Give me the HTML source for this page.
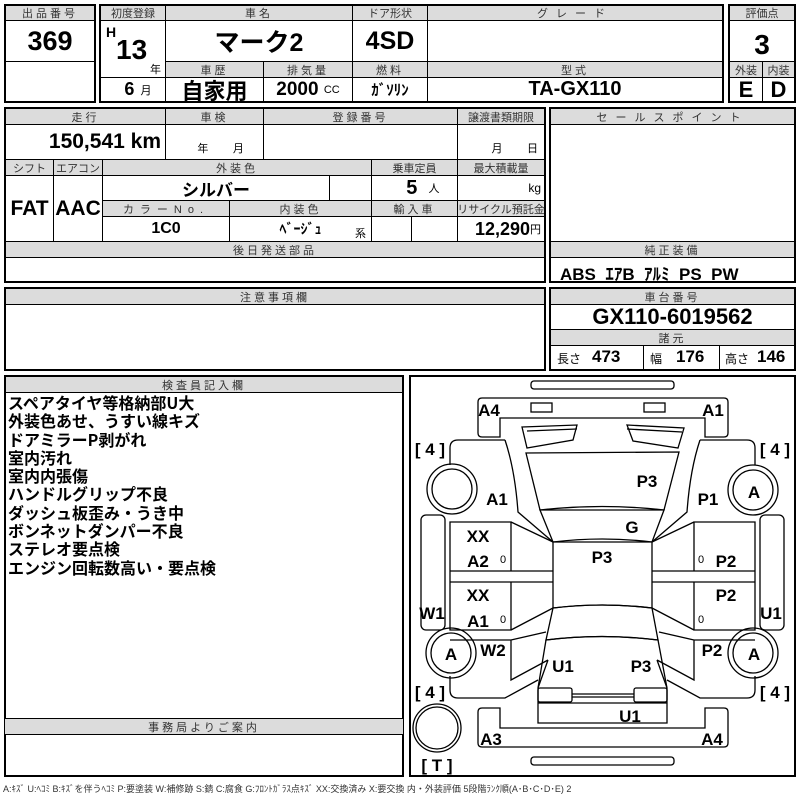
<!DOCTYPE html>
<html><head><meta charset="utf-8"><style>
*{margin:0;padding:0;box-sizing:border-box}
body{width:800px;height:800px;background:#fff;position:relative;overflow:hidden;font-family:"Liberation Sans","Noto Sans CJK JP",sans-serif;color:#000}
.c{position:absolute;border:1px solid #000;display:flex;align-items:center;justify-content:center;white-space:nowrap}
.h{background:#dcdcdc;font-size:11px;letter-spacing:3px;color:#333}
.v{font-weight:bold;font-family:"Liberation Sans Narrow","Liberation Sans","Noto Sans CJK JP",sans-serif}
.ob{position:absolute;border:2px solid #000}
.t{position:absolute;white-space:nowrap}
.s{font-size:11px;font-weight:normal}
</style></head><body>
<!-- box1 -->
<div class="ob" style="left:4px;top:4px;width:92px;height:99px"></div>
<div class="c h" style="left:5px;top:5px;width:90px;height:16px">出品番号</div>
<div class="c v" style="left:5px;top:20px;width:90px;height:42px;font-size:27px">369</div>
<!-- box2 -->
<div class="ob" style="left:99px;top:4px;width:625px;height:99px"></div>
<div class="c h" style="left:100px;top:5px;width:66px;height:16px;letter-spacing:0">初度登録</div>
<div class="c h" style="left:165px;top:5px;width:188px;height:16px">車名</div>
<div class="c h" style="left:352px;top:5px;width:76px;height:16px;letter-spacing:0">ドア形状</div>
<div class="c h" style="left:427px;top:5px;width:296px;height:16px;letter-spacing:8px">グレード</div>
<div class="c" style="left:100px;top:20px;width:66px;height:58px"></div>
<div class="t v" style="left:106px;top:24px;font-size:14px">H</div>
<div class="t v" style="left:116px;top:34px;font-size:28px">13</div>
<div class="t s" style="left:150px;top:61px">年</div>
<div class="c v" style="left:165px;top:20px;width:188px;height:42px;font-size:25px">マーク2</div>
<div class="c v" style="left:352px;top:20px;width:76px;height:42px;font-size:25px">4SD</div>
<div class="c" style="left:427px;top:20px;width:296px;height:42px"></div>
<div class="c h" style="left:165px;top:61px;width:99px;height:17px">車歴</div>
<div class="c h" style="left:263px;top:61px;width:90px;height:17px">排気量</div>
<div class="c h" style="left:352px;top:61px;width:76px;height:17px">燃料</div>
<div class="c h" style="left:427px;top:61px;width:296px;height:17px">型式</div>
<div class="c v" style="left:100px;top:77px;width:66px;height:25px;font-size:18px">&nbsp;&nbsp;6 <span class="s">&nbsp;&nbsp;月</span></div>
<div class="c v" style="left:165px;top:77px;width:99px;height:25px;font-size:22px">自家用</div>
<div class="c v" style="left:263px;top:77px;width:90px;height:25px;font-size:19px">2000&nbsp;<span class="s">CC</span></div>
<div class="c v" style="left:352px;top:77px;width:76px;height:25px;font-size:15px">ｶﾞｿﾘﾝ</div>
<div class="c v" style="left:427px;top:77px;width:296px;height:25px;font-size:20px">TA-GX110</div>
<!-- box3 -->
<div class="ob" style="left:728px;top:4px;width:68px;height:99px"></div>
<div class="c h" style="left:729px;top:5px;width:66px;height:16px;letter-spacing:0">評価点</div>
<div class="c v" style="left:729px;top:20px;width:66px;height:42px;font-size:28px;padding-top:8px">3</div>
<div class="c h" style="left:729px;top:61px;width:34px;height:17px;letter-spacing:0">外装</div>
<div class="c h" style="left:762px;top:61px;width:33px;height:17px;letter-spacing:0">内装</div>
<div class="c v" style="left:729px;top:77px;width:34px;height:25px;font-size:22px">E</div>
<div class="c v" style="left:762px;top:77px;width:33px;height:25px;font-size:22px">D</div>
<!-- section2 -->
<div class="ob" style="left:4px;top:107px;width:542px;height:176px"></div>
<div class="c h" style="left:5px;top:108px;width:161px;height:17px">走行</div>
<div class="c h" style="left:165px;top:108px;width:99px;height:17px">車検</div>
<div class="c h" style="left:263px;top:108px;width:195px;height:17px">登録番号</div>
<div class="c h" style="left:457px;top:108px;width:88px;height:17px;letter-spacing:0">譲渡書類期限</div>
<div class="c v" style="left:5px;top:124px;width:161px;height:36px;font-size:21px;justify-content:flex-end;padding-right:4px">150,541 km</div>
<div class="c" style="left:165px;top:124px;width:99px;height:36px;font-size:11px;align-items:flex-end;padding-bottom:3px">&nbsp;&nbsp;&nbsp;&nbsp;年&nbsp;&nbsp;&nbsp;&nbsp;&nbsp;&nbsp;&nbsp;&nbsp;月</div>
<div class="c" style="left:263px;top:124px;width:195px;height:36px"></div>
<div class="c" style="left:457px;top:124px;width:88px;height:36px;font-size:11px;align-items:flex-end;justify-content:flex-end;padding:0 6px 3px 0">月&nbsp;&nbsp;&nbsp;&nbsp;&nbsp;&nbsp;&nbsp;&nbsp;日</div>
<div class="c h" style="left:5px;top:159px;width:49px;height:17px;letter-spacing:0">シフト</div>
<div class="c h" style="left:53px;top:159px;width:50px;height:17px;letter-spacing:0">エアコン</div>
<div class="c h" style="left:102px;top:159px;width:270px;height:17px">外装色</div>
<div class="c h" style="left:371px;top:159px;width:87px;height:17px;letter-spacing:0">乗車定員</div>
<div class="c h" style="left:457px;top:159px;width:88px;height:17px;letter-spacing:0">最大積載量</div>
<div class="c v" style="left:5px;top:175px;width:49px;height:67px;font-size:21px">FAT</div>
<div class="c v" style="left:53px;top:175px;width:50px;height:67px;font-size:21px">AAC</div>
<div class="c v" style="left:102px;top:175px;width:228px;height:26px;font-size:17px">シルバー</div>
<div class="c" style="left:329px;top:175px;width:43px;height:26px"></div>
<div class="c v" style="left:371px;top:175px;width:87px;height:26px;font-size:20px">&nbsp;&nbsp;&nbsp;5&nbsp;&nbsp;<span class="s">人</span></div>
<div class="c" style="left:457px;top:175px;width:88px;height:26px;font-size:12px;justify-content:flex-end;padding-right:3px">kg</div>
<div class="c h" style="left:102px;top:200px;width:128px;height:17px;letter-spacing:6px">カラーNo.</div>
<div class="c h" style="left:229px;top:200px;width:143px;height:17px">内装色</div>
<div class="c h" style="left:371px;top:200px;width:87px;height:17px">輸入車</div>
<div class="c h" style="left:457px;top:200px;width:88px;height:17px;letter-spacing:0">リサイクル預託金</div>
<div class="c v" style="left:102px;top:216px;width:128px;height:26px;font-size:16px">1C0</div>
<div class="c v" style="left:229px;top:216px;width:143px;height:26px;font-size:14px">ﾍﾞｰｼﾞｭ</div>
<div class="t s" style="left:355px;top:225px">系</div>
<div class="c" style="left:371px;top:216px;width:41px;height:26px"></div>
<div class="c" style="left:411px;top:216px;width:47px;height:26px"></div>
<div class="c v" style="left:457px;top:216px;width:88px;height:26px;font-size:18px;justify-content:flex-end;padding-right:3px">12,290<span class="s">円</span></div>
<div class="c h" style="left:5px;top:241px;width:540px;height:17px">後日発送部品</div>
<!-- sales -->
<div class="ob" style="left:549px;top:107px;width:247px;height:176px"></div>
<div class="c h" style="left:550px;top:108px;width:245px;height:17px;letter-spacing:8px">セールスポイント</div>
<div class="c h" style="left:550px;top:241px;width:245px;height:17px">純正装備</div>
<div class="t v" style="left:560px;top:260px;font-size:17px">ABS&nbsp; ｴｱB&nbsp; ｱﾙﾐ&nbsp; PS&nbsp; PW</div>
<!-- section3 -->
<div class="ob" style="left:4px;top:287px;width:542px;height:84px"></div>
<div class="c h" style="left:5px;top:288px;width:540px;height:17px">注意事項欄</div>
<div class="ob" style="left:549px;top:287px;width:247px;height:84px"></div>
<div class="c h" style="left:550px;top:288px;width:245px;height:17px">車台番号</div>
<div class="c v" style="left:550px;top:304px;width:245px;height:26px;font-size:22px">GX110-6019562</div>
<div class="c h" style="left:550px;top:329px;width:245px;height:17px">諸元</div>
<div class="c" style="left:550px;top:345px;width:94px;height:25px"></div>
<div class="c" style="left:643px;top:345px;width:77px;height:25px"></div>
<div class="c" style="left:719px;top:345px;width:76px;height:25px"></div>
<div class="t" style="left:557px;top:350px;font-size:12px">長さ</div><div class="t v" style="left:592px;top:347px;font-size:17px">473</div>
<div class="t" style="left:650px;top:350px;font-size:12px">幅</div><div class="t v" style="left:676px;top:347px;font-size:17px">176</div>
<div class="t" style="left:725px;top:350px;font-size:12px">高さ</div><div class="t v" style="left:757px;top:347px;font-size:17px">146</div>
<!-- section4 -->
<div class="ob" style="left:4px;top:375px;width:400px;height:402px"></div>
<div class="c h" style="left:5px;top:376px;width:398px;height:17px">検査員記入欄</div>
<div class="t" style="left:8px;top:393px;font-size:16px;font-weight:bold;line-height:18.3px;font-family:'Noto Sans CJK JP',sans-serif">スペアタイヤ等格納部U大<br>外装色あせ、うすい線キズ<br>ドアミラーP剥がれ<br>室内汚れ<br>室内内張傷<br>ハンドルグリップ不良<br>ダッシュ板歪み・うき中<br>ボンネットダンパー不良<br>ステレオ要点検<br>エンジン回転数高い・要点検</div>
<div class="c h" style="left:5px;top:718px;width:398px;height:17px;border-left:none;border-right:none">事務局よりご案内</div>
<div class="ob" style="left:409px;top:375px;width:387px;height:402px"></div>
<svg style="position:absolute;left:0;top:0" width="800" height="800" fill="none" stroke="#000" stroke-width="1.3">
<rect x="531" y="381" width="143" height="8" rx="3"/>
<rect x="531" y="757" width="143" height="8" rx="3"/>
<path d="M482,398H724q4,0 4,4V433q0,4 -4,4H705V418H500V437H482q-4,0 -4,-4V402q0,-4 4,-4Z"/>
<path d="M482,747H724q4,0 4,-4V712q0,-4 -4,-4H705V728H500V708H482q-4,0 -4,4V743q0,4 4,4Z"/>
<rect x="531" y="403" width="21" height="9"/><rect x="644" y="403" width="21" height="9"/>
<path d="M522,427L577,425L573,440L527,448Z M627,425L684,428L678,448L633,441Z M527,431L577,429 M627,429L682,432"/>
<path d="M526,453L679,452L664,510L540,510Z"/>
<path d="M540,510Q602,503 664,510L652,542L553,542Z"/>
<path d="M553,542Q602,536 652,542V608Q602,602 553,608Z"/>
<path d="M553,608Q602,602 652,608L658,640Q602,633 546,640Z"/>
<path d="M546,640Q602,633 658,640L667,688V723H538V688Z"/>
<rect x="538" y="688" width="34" height="14" rx="2"/><rect x="634" y="688" width="33" height="14" rx="2"/>
<path d="M572,694H634M572,697H634M538,703H667"/>
<!-- left side -->
<path d="M505,440H458q-8,0 -8,8V465"/>
<path d="M505,440Q515,470 518,512L553,542"/>
<path d="M450,522H511V571H450Z M511,522L553,542 M511,571H553 M450,571V582H553 M450,582H511V630H450Z M511,630L553,608 M511,582H553"/>
<path d="M450,640H511V680L548,660 M511,640L546,632 M548,660L538,688 M450,676V690q0,8 8,8H505L538,680"/>
<rect x="421" y="515" width="24" height="115" rx="5"/>
<!-- right side -->
<path d="M700,440H747q8,0 8,8V465"/>
<path d="M700,440Q690,470 687,512L652,542"/>
<path d="M755,522H694V571H755Z M694,522L652,542 M694,571H652 M755,571V582H652 M755,582H694V630H755Z M694,630L652,608 M694,582H652"/>
<path d="M755,640H694V680L657,660 M694,640L659,632 M657,660L667,688 M755,676V690q0,8 -8,8H700L667,680"/>
<rect x="760" y="515" width="24" height="115" rx="5"/>
<circle cx="452" cy="489" r="25"/><circle cx="452" cy="489" r="20"/>
<circle cx="753" cy="490" r="25"/><circle cx="753" cy="490" r="20"/>
<circle cx="451" cy="653" r="25"/><circle cx="451" cy="653" r="20"/>
<circle cx="753" cy="653" r="25"/><circle cx="753" cy="653" r="20"/>
<circle cx="437" cy="728" r="24"/><circle cx="437" cy="728" r="21"/>
<g fill="#000" stroke="none" font-family="Liberation Sans Narrow,Liberation Sans,sans-serif" font-weight="bold" font-size="17" text-anchor="middle">
<text x="489" y="416">A4</text><text x="713" y="416">A1</text>
<text x="647" y="487">P3</text><text x="497" y="505">A1</text><text x="708" y="505">P1</text>
<text x="754" y="498">A</text><text x="632" y="533">G</text>
<text x="478" y="542">XX</text><text x="478" y="567">A2</text><text x="602" y="563">P3</text><text x="726" y="567">P2</text>
<text x="478" y="601">XX</text><text x="726" y="601">P2</text>
<text x="432" y="619">W1</text><text x="478" y="627">A1</text><text x="771" y="619">U1</text>
<text x="451" y="660">A</text><text x="493" y="656">W2</text><text x="712" y="656">P2</text><text x="754" y="660">A</text>
<text x="563" y="672">U1</text><text x="641" y="672">P3</text><text x="630" y="722">U1</text>
<text x="491" y="745">A3</text><text x="712" y="745">A4</text>
<text x="430" y="455">[ 4 ]</text><text x="775" y="455">[ 4 ]</text><text x="430" y="698">[ 4 ]</text><text x="775" y="698">[ 4 ]</text>
<text x="437" y="771">[ T ]</text>
</g>
<g fill="#000" stroke="none" font-family="Liberation Sans" font-size="11" text-anchor="middle">
<text x="503" y="563">0</text><text x="701" y="563">0</text><text x="503" y="623">0</text><text x="701" y="623">0</text>
</g>
</svg>
<div class="t" style="left:3px;top:782px;font-size:9px;color:#333">A:ｷｽﾞ U:ﾍｺﾐ B:ｷｽﾞを伴うﾍｺﾐ P:要塗装 W:補修跡 S:錆 C:腐食 G:ﾌﾛﾝﾄｶﾞﾗｽ点ｷｽﾞ XX:交換済み X:要交換 内・外装評価 5段階ﾗﾝｸ順(A･B･C･D･E) 2</div>
</body></html>
